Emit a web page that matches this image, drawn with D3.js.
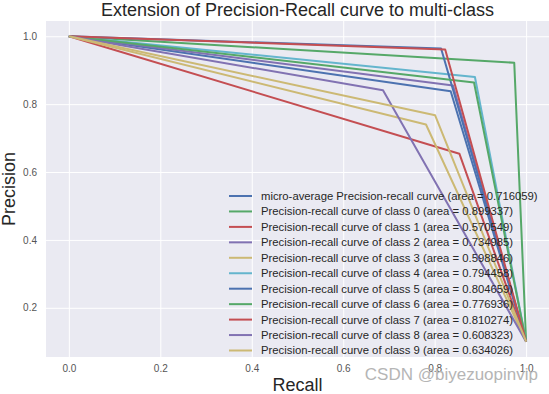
<!DOCTYPE html>
<meta charset="utf-8">
<style>
body { margin: 0; background: #fff; }
svg { font-family: "Liberation Sans", Arial, sans-serif; }
.axis text { fill: #555; font-size: 10px; }
.axis line { stroke: #fff; stroke-width: 1; }
.axis path { display: none; }
</style>
<body>
<svg id="chart" width="549" height="394"></svg>
<script src="https://cdn.jsdelivr.net/npm/d3@7/dist/d3.min.js"></script>
<script>

// series labels + area values as printed in the legend
var labels = [
  "micro-average Precision-recall curve",
  "Precision-recall curve of class 0",
  "Precision-recall curve of class 1",
  "Precision-recall curve of class 2",
  "Precision-recall curve of class 3",
  "Precision-recall curve of class 4",
  "Precision-recall curve of class 5",
  "Precision-recall curve of class 6",
  "Precision-recall curve of class 7",
  "Precision-recall curve of class 8",
  "Precision-recall curve of class 9"
];
var areas = ["0.716059", "0.899337", "0.570549", "0.734985", "0.598846",
  "0.794458", "0.804659", "0.776936", "0.810274", "0.608323", "0.634026"];

// points of each curve
var recall = [
  [0, 0.835, 1], [0, 0.974, 1], [0, 0.854, 1], [0, 0.840, 1],
  [0, 0.781, 1], [0, 0.888, 1], [0, 0.814, 1], [0, 0.886, 1],
  [0, 0.823, 1], [0, 0.687, 1], [0, 0.801, 1]
];
var precision = [
  [1, 0.838, 0.1], [1, 0.922, 0.1], [1, 0.654, 0.1], [1, 0.855, 0.1],
  [1, 0.740, 0.1], [1, 0.880, 0.1], [1, 0.964, 0.1], [1, 0.864, 0.1],
  [1, 0.961, 0.1], [1, 0.841, 0.1], [1, 0.767, 0.1]
];

var xTicks = [0.0, 0.2, 0.4, 0.6, 0.8, 1.0];
var yTicks = [0.2, 0.4, 0.6, 0.8, 1.0];

// seaborn "deep" cycle
var palette = ["#4C72B0", "#55A868", "#C44E52", "#8172B2", "#CCB974", "#64B5CD"];

var svg = d3.select("#chart"),
    plot = {left: 46, right: 549, top: 21, bottom: 357};

var x = d3.scaleLinear().domain([-0.05, 1.05]).range([plot.left, plot.right]),
    y = d3.scaleLinear().domain([0.055, 1.045]).range([plot.bottom, plot.top]);

svg.append("rect")
    .attr("x", plot.left).attr("y", plot.top)
    .attr("width", plot.right - plot.left).attr("height", plot.bottom - plot.top)
    .attr("fill", "#EAEAF2");

svg.append("g")
    .attr("class", "axis")
    .attr("transform", "translate(0," + plot.bottom + ")")
    .call(d3.axisBottom(x).tickValues(xTicks).tickFormat(d3.format(".1f"))
      .tickSize(-(plot.bottom - plot.top)).tickPadding(8));

svg.append("g")
    .attr("class", "axis")
    .attr("transform", "translate(" + plot.left + ",0)")
    .call(d3.axisLeft(y).tickValues(yTicks).tickFormat(d3.format(".1f"))
      .tickSize(-(plot.right - plot.left)).tickPadding(9));

var line = d3.line()
    .x(function(d) { return x(d[0]); })
    .y(function(d) { return y(d[1]); });

var curves = labels.map(function(name, i) {
  return recall[i].map(function(r, j) { return [r, precision[i][j]]; });
});

svg.append("g").selectAll("path")
    .data(curves)
  .enter().append("path")
    .attr("d", line)
    .attr("fill", "none")
    .attr("stroke", function(d, i) { return palette[i % palette.length]; })
    .attr("stroke-width", 2)
    .attr("stroke-linejoin", "round");

var legend = svg.append("g").selectAll("g")
    .data(labels)
  .enter().append("g")
    .attr("transform", function(d, i) { return "translate(229," + (196 + i * 15.45) + ")"; });

legend.append("line")
    .attr("x1", 0).attr("x2", 23)
    .attr("stroke", function(d, i) { return palette[i % palette.length]; })
    .attr("stroke-width", 2);

legend.append("text")
    .attr("x", 32)
    .attr("dy", "0.35em")
    .attr("fill", "#262626")
    .style("font-size", "11.3px")
    .text(function(d, i) { return d + " (area = " + areas[i] + ")"; });

svg.append("text")
    .attr("x", (plot.left + plot.right) / 2)
    .attr("y", 16)
    .attr("text-anchor", "middle")
    .attr("fill", "#262626")
    .style("font-size", "18px")
    .text("Extension of Precision-Recall curve to multi-class");

svg.append("text")
    .attr("x", (plot.left + plot.right) / 2)
    .attr("y", 391)
    .attr("text-anchor", "middle")
    .attr("fill", "#262626")
    .style("font-size", "18px")
    .text("Recall");

svg.append("text")
    .attr("transform", "translate(15," + (plot.top + plot.bottom) / 2 + ") rotate(-90)")
    .attr("text-anchor", "middle")
    .attr("fill", "#262626")
    .style("font-size", "18px")
    .text("Precision");

svg.append("text")
    .attr("x", 538)
    .attr("y", 380)
    .attr("text-anchor", "end")
    .attr("fill", "#b5b5b5")
    .style("font-size", "17px")
    .text("CSDN @biyezuopinvip");

</script>
</body>
